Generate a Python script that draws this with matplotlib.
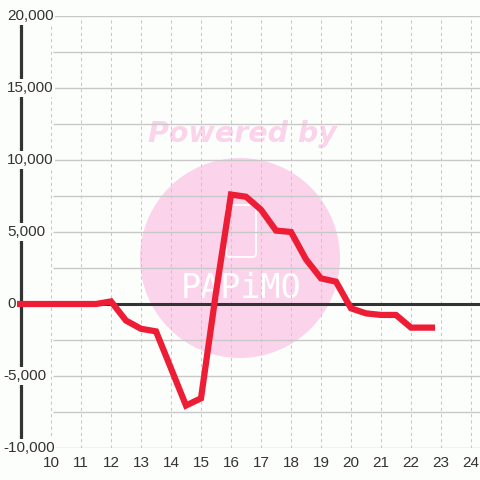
import numpy as np
import matplotlib
matplotlib.use("Agg")
import matplotlib.pyplot as plt
from matplotlib.patches import Circle, FancyBboxPatch
from matplotlib.transforms import blended_transform_factory

# series (hour of day -> value)
hours = [8.5, 9, 9.5, 10, 10.5, 11, 11.5, 12, 12.5, 13, 13.5, 14, 14.5, 15,
         15.5, 16, 16.5, 17, 17.5, 18, 18.5, 19, 19.5, 20, 20.5, 21, 21.5,
         22, 22.5, 22.8]
values = [0, 0, 0, 0, 0, 0, 0, 180, -1150, -1720, -1900, -4470, -7050, -6550,
          800, 7600, 7450, 6550, 5100, 5000, 3100, 1780, 1550, -300, -650,
          -760, -760, -1640, -1640, -1640]

x_ticks = list(range(10, 25))
y_ticks = [20000, 15000, 10000, 5000, 0, -5000, -10000]
y_grid = np.arange(-10000, 20001, 2500)

BG = "#fcfefc"
PINK = "#fbd4eb"
RED = "#ee1d36"
DARK = "#333333"
GRID = "#c8c8c8"

W = 480.0
fig = plt.figure(figsize=(4.8, 4.8), dpi=100, facecolor=BG)
ax = fig.add_axes([17 / W, 32 / W, 463 / W, 432 / W], facecolor=BG)
ax.set_xlim(8.867, 24.3)
ax.set_ylim(-10000, 20000)
for s in ax.spines.values():
    s.set_visible(False)

# watermark
ax.add_patch(Circle((240 / W, 1 - 258 / W), 100 / W, transform=fig.transFigure,
                    facecolor=PINK, edgecolor="none", zorder=0, clip_on=False))
ax.text(242 / W, 1 - 134 / W, "Powered by", transform=fig.transFigure,
        ha="center", va="center", fontsize=20.5, fontweight="bold",
        fontstyle="italic", family="DejaVu Sans", color=PINK, zorder=0)
ax.add_patch(FancyBboxPatch((226 / W, 1 - 257 / W), 30 / W, 52 / W,
                            boxstyle="round,pad=0,rounding_size=0.008",
                            transform=fig.transFigure, facecolor="none",
                            edgecolor="white", lw=1.3, zorder=0.5))
ax.text(241 / W, 1 - 288 / W, "PAPiMO", transform=fig.transFigure,
        ha="center", va="center", fontsize=24, family="DejaVu Sans Mono",
        color="white", zorder=0.5)

# grid
ax.hlines(y_grid, 10.067, 24.3, colors=GRID, lw=1.0, zorder=1)
for xv in x_ticks:
    ax.axvline(xv, color=GRID, lw=0.75, ls=(0, (3, 3)), zorder=1)

# axis lines
ax.axvline(9, color=DARK, lw=2.3, zorder=2)
ax.hlines(0, 9, 24.3, colors=DARK, lw=2.2, zorder=2)

# data line
ax.plot(hours, values, color=RED, lw=4.5, solid_joinstyle="miter",
        solid_capstyle="butt", zorder=3)

# ticks
ax.set_xticks(x_ticks)
ax.set_xticklabels([str(v) for v in x_ticks], family="Liberation Sans",
                   fontsize=11, color=DARK)
ax.tick_params(axis="x", length=0, pad=6)
ax.set_yticks([])

trans = blended_transform_factory(fig.transFigure, ax.transData)
for yv in y_ticks:
    xpos = (7 if yv >= 0 else 3) / W
    ax.text(xpos, yv, f"{yv:,}", transform=trans, ha="left", va="center",
            family="Liberation Sans", fontsize=11, color=DARK, zorder=5,
            bbox=dict(boxstyle="square,pad=0.1", facecolor=BG, edgecolor="none"),
            clip_on=False)

fig.savefig("out.png", dpi=100, facecolor=BG)
